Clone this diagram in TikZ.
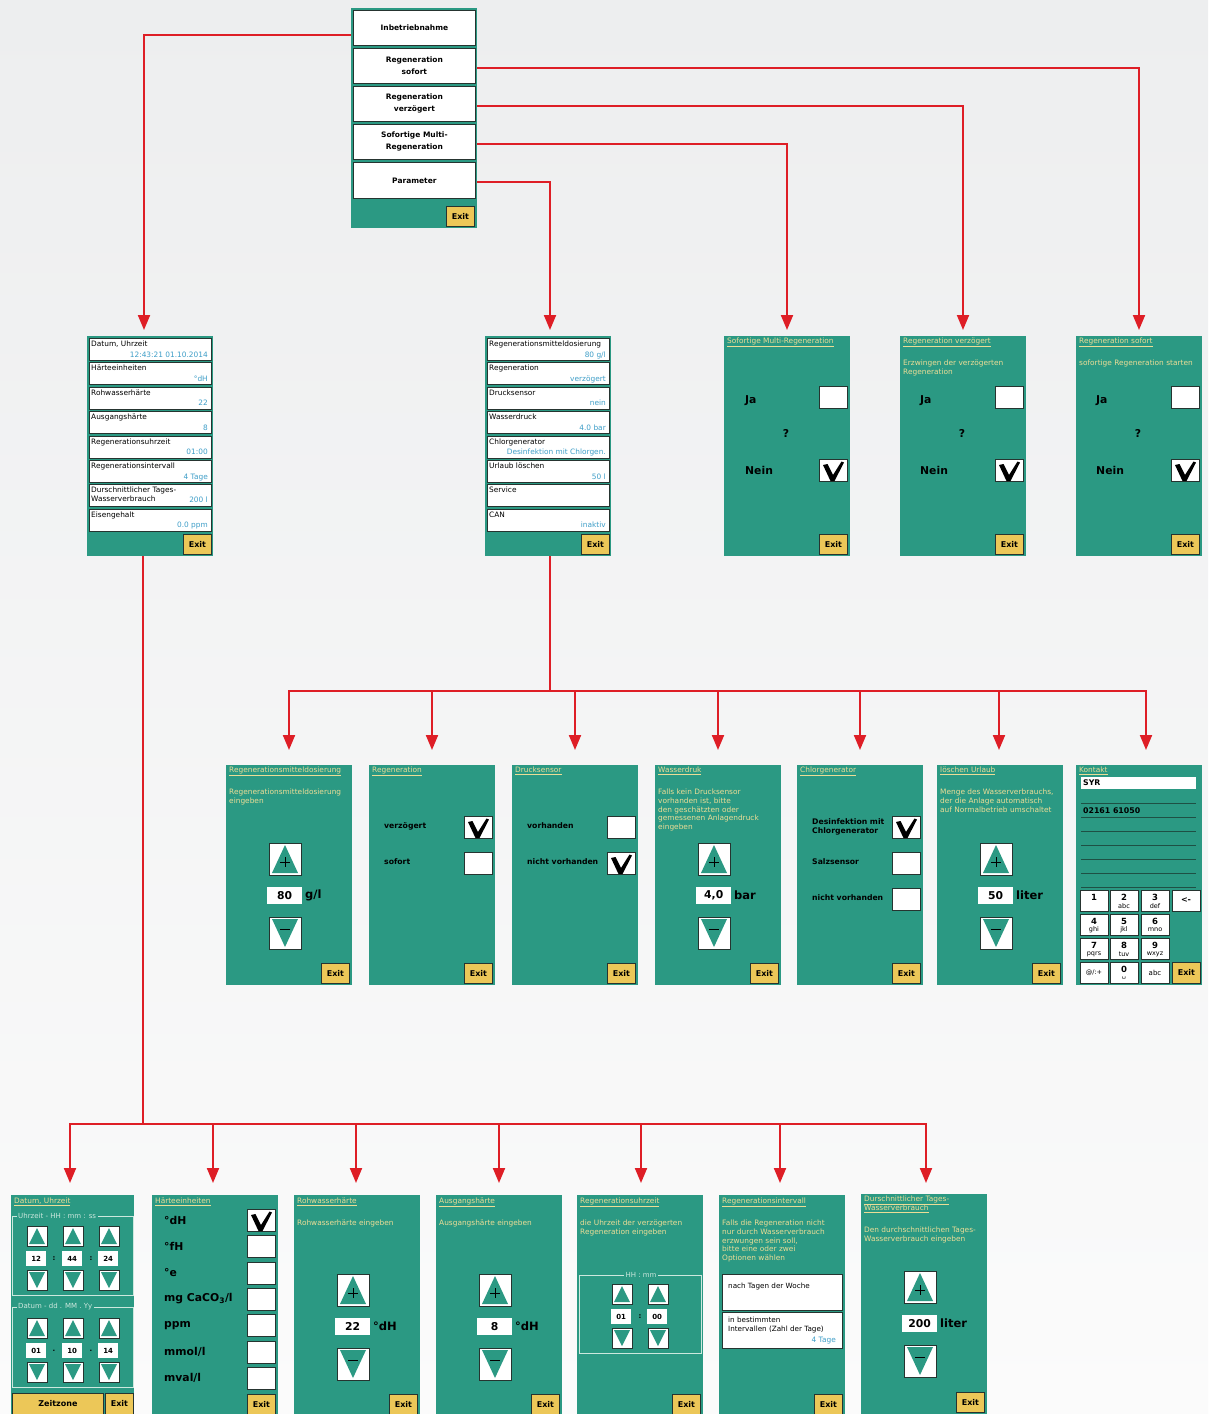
\documentclass[tikz,border=0pt]{standalone}
\usepackage{fontspec}
\setmainfont{DejaVu Sans}
\usetikzlibrary{arrows.meta}
\definecolor{tl}{RGB}{43,153,131}
\definecolor{dk}{RGB}{38,52,48}
\definecolor{kh}{RGB}{236,221,150}
\definecolor{vb}{RGB}{62,158,200}
\definecolor{ex}{RGB}{236,199,88}
\definecolor{rd}{RGB}{222,30,38}
\definecolor{bgt}{RGB}{237,238,239}
\definecolor{bgb}{RGB}{251,251,251}
\definecolor{fr}{RGB}{205,232,222}
\definecolor{lnc}{RGB}{30,80,68}
\newcommand\fs[2]{\fontsize{#1}{#2}\selectfont}
\newcommand\uln[1]{\underline{#1}}
\pgfdeclarelayer{back}\pgfdeclarelayer{conn}\pgfsetlayers{back,conn,main}
\tikzset{
 panel/.style={fill=tl, anchor=north west, inner sep=0pt, minimum width=126pt, minimum height=220pt},
 wb/.style={fill=white, draw=dk, line width=0.8pt, anchor=north west, inner sep=0pt},
 mbtn/.style={wb, minimum width=122pt, minimum height=35pt, align=center, font=\bfseries\fs{7.5}{12}},
 exitst/.style={fill=ex, draw=dk, line width=0.8pt, anchor=north west, inner sep=0pt, minimum width=28pt, minimum height=20pt, font=\bfseries\fs{8}{9}},
 ttlst/.style={anchor=west, inner sep=0pt, text=kh, font=\fs{7.4}{9}},
 descst/.style={anchor=north west, inner sep=0pt, text=kh, font=\fs{7.4}{8.7}, align=left},
 bigst/.style={anchor=west, inner sep=0pt, font=\bfseries\fs{10.8}{12}},
 midst/.style={anchor=west, inner sep=0pt, font=\bfseries\fs{7.7}{9}, align=left},
 hst/.style={anchor=west, inner sep=0pt, font=\bfseries\fs{10.8}{12}},
 arr/.style={draw=rd, line width=2pt, -{Triangle[width=12pt,length=15pt]}},
 busst/.style={draw=rd, line width=2pt},
 cb/.style={wb, minimum width=28pt, minimum height=22pt},
 btnst/.style={wb, minimum width=32pt, minimum height=32pt},
 sbtnst/.style={wb, minimum width=20pt, minimum height=20pt},
 valbox/.style={fill=white, anchor=north west, inner sep=0pt, minimum width=35pt, minimum height=17pt, font=\bfseries\fs{10.8}{11}},
 svbox/.style={fill=white, anchor=north west, inner sep=0pt, minimum width=20pt, minimum height=15pt, font=\bfseries\fs{7}{8}},
 unitst/.style={anchor=west, inner sep=0pt, font=\bfseries\fs{11.5}{12}},
 lt/.style={anchor=base west, inner sep=0pt, font=\fs{7.4}{9}},
 lv/.style={anchor=base east, inner sep=0pt, font=\fs{7.4}{9}, text=vb},
 keyst/.style={wb, minimum width=28pt, minimum height=21pt},
 kd/.style={inner sep=0pt, font=\bfseries\fs{8.5}{9}},
 kl/.style={inner sep=0pt, font=\fs{6.5}{7}},
 legst/.style={anchor=west, fill=tl, inner sep=1.5pt, text=fr, font=\fs{7}{8}},
 colst/.style={inner sep=0pt, font=\bfseries\fs{7}{8}},
 blk/.style={anchor=west, inner sep=0pt, font=\bfseries\fs{7.8}{9}},
 bt/.style={anchor=west, inner sep=0pt, font=\fs{7.2}{9}},
}
% checkbox: name, x, y, checked
\newcommand\cbx[4]{\node[cb] (#1) at (#2,#3) {};%
 \ifnum#4=1 \fill (#2+4,#3+6) -- (#2+8.5,#3+5) -- (#2+14,#3+16) -- (#2+22.5,#3+2.5) -- (#2+25,#3+3.5) -- (#2+15.5,#3+22) -- (#2+11.5,#3+22) -- cycle;\fi}
% big spinner: name, up-y, value, unit
\newcommand\spin[4]{%
 \node[btnst] (#1u) at (43,#2) {};
 \fill[tl] (46,#2+30) -- (72,#2+30) -- (59,#2+2) -- cycle;
 \draw[line width=1pt] (54,#2+19) -- (64,#2+19) (59,#2+14) -- (59,#2+24);
 \node[valbox] (#1v) at (41,#2+44) {#3};
 \node[unitst] (#1n) at (79,#2+52.5) {#4};
 \node[btnst] (#1d) at (43,#2+74) {};
 \fill[tl] (46,#2+76) -- (72,#2+76) -- (59,#2+104) -- cycle;
 \draw[line width=1pt] (54,#2+86.5) -- (64,#2+86.5);}
% small spinner: name, x, y, value
\newcommand\sspin[4]{%
 \node[sbtnst] (#1u) at (#2,#3) {};
 \fill[tl] (#2+2,#3+18) -- (#2+18,#3+18) -- (#2+10,#3+2) -- cycle;
 \node[svbox] (#1v) at (#2-1,#3+25) {#4};
 \node[sbtnst] (#1d) at (#2,#3+44) {};
 \fill[tl] (#2+2,#3+46) -- (#2+18,#3+46) -- (#2+10,#3+62) -- cycle;}
% list entry: name, y, label, value
\newcommand\entry[4]{\node[wb, minimum width=122pt, minimum height=22pt] (#1) at (2,#2) {};
 \node[lt] (#1l) at (4,#2+8.5) {#3};
 \node[lv] (#1v) at (121,#2+19) {#4};}
% keypad key: name, x, y, digit, letters
\newcommand\kp[5]{\node[keyst] (#1) at (#2,#3) {};
 \node[kd] (#1a) at (#2+14,#3+7) {#4};
 \node[kl] (#1b) at (#2+14,#3+16) {#5};}
\newcommand\kc[5]{\node[keyst] (#1) at (#2,#3) {};
 \node[inner sep=0pt, font=#5] (#1a) at (#2+14,#3+10.5) {#4};}

\begin{document}
\begin{tikzpicture}[x=1pt,y=-1pt]
\useasboundingbox (0,0) rectangle (1208,1414);
\begin{pgfonlayer}{back}
\shade[top color=bgt, bottom color=bgb] (0,0) rectangle (1208,1414);
\end{pgfonlayer}

% ---------- main menu
\begin{scope}[shift={(351,8)}]
\node[panel] (menu) at (0,0) {};
\node[mbtn] (mInb) at (2,2) {Inbetriebnahme};
\node[mbtn] (mSof) at (2,40) {Regeneration\\sofort};
\node[mbtn] (mVer) at (2,78) {Regeneration\\verzögert};
\node[mbtn] (mMul) at (2,116) {Sofortige Multi-\\Regeneration};
\node[mbtn, minimum height=36pt] (mPar) at (2,154) {Parameter};
\node[exitst] (mEx) at (95,198) {Exit};
\end{scope}

% ---------- Inbetriebnahme list
\begin{scope}[shift={(87,336)}]
\node[panel] (L) at (0,0) {};
\entry{L1}{2}{Datum, Uhrzeit}{12:43:21 01.10.2014}
\entry{L2}{26.4}{Härteeinheiten}{°dH}
\entry{L3}{50.8}{Rohwasserhärte}{22}
\entry{L4}{75.2}{Ausgangshärte}{8}
\entry{L5}{99.6}{Regenerationsuhrzeit}{01:00}
\entry{L6}{124}{Regenerationsintervall}{4 Tage}
\node[wb, minimum width=122pt, minimum height=22pt] (L7) at (2,148.4) {};
\node[lt] (L7l) at (4,156.4) {Durschnittlicher Tages-};
\node[lt] (L7m) at (4,165.4) {Wasserverbrauch};
\node[lv] (L7v) at (121,166.4) {200 l};
\entry{L8}{172.8}{Eisengehalt}{0.0 ppm}
\node[exitst] (Lx) at (96,198) {Exit};
\end{scope}

% ---------- Parameter list
\begin{scope}[shift={(485,336)}]
\node[panel] (M) at (0,0) {};
\entry{M1}{2}{Regenerationsmitteldosierung}{80 g/l}
\entry{M2}{26.4}{Regeneration}{verzögert}
\entry{M3}{50.8}{Drucksensor}{nein}
\entry{M4}{75.2}{Wasserdruck}{4.0 bar}
\entry{M5}{99.6}{Chlorgenerator}{Desinfektion mit Chlorgen.}
\entry{M6}{124}{Urlaub löschen}{50 l}
\entry{M7}{148.4}{Service}{}
\entry{M8}{172.8}{CAN}{inaktiv}
\node[exitst] (Mx) at (96,198) {Exit};
\end{scope}

% ---------- yes/no screens
\begin{scope}[shift={(724,336)}]
\node[panel] (A1) at (0,0) {};
\node[ttlst] (A1t) at (3,6) {\uln{Sofortige Multi-Regeneration}};
\node[bigst] (A1j) at (21,65) {Ja};
\cbx{A1a}{95}{50}{0}
\node[bigst, anchor=center] (A1q) at (62,97) {?};
\node[bigst] (A1n) at (21,134) {Nein};
\cbx{A1b}{95}{123}{1}
\node[exitst] (A1x) at (95,198) {Exit};
\end{scope}
\begin{scope}[shift={(900,336)}]
\node[panel] (A2) at (0,0) {};
\node[ttlst] (A2t) at (3,6) {\uln{Regeneration verzögert}};
\node[descst] (A2d) at (3,24) {Erzwingen der verzögerten\\Regeneration};
\node[bigst] (A2j) at (20,65) {Ja};
\cbx{A2a}{95}{50}{0}
\node[bigst, anchor=center] (A2q) at (62,97) {?};
\node[bigst] (A2n) at (20,134) {Nein};
\cbx{A2b}{95}{123}{1}
\node[exitst] (A2x) at (95,198) {Exit};
\end{scope}
\begin{scope}[shift={(1076,336)}]
\node[panel] (A3) at (0,0) {};
\node[ttlst] (A3t) at (3,6) {\uln{Regeneration sofort}};
\node[descst] (A3d) at (3,24) {sofortige Regeneration starten};
\node[bigst] (A3j) at (20,65) {Ja};
\cbx{A3a}{95}{50}{0}
\node[bigst, anchor=center] (A3q) at (62,97) {?};
\node[bigst] (A3n) at (20,134) {Nein};
\cbx{A3b}{95}{123}{1}
\node[exitst] (A3x) at (95,198) {Exit};
\end{scope}

% ---------- row 2
\begin{scope}[shift={(226,765)}]
\node[panel] (B1) at (0,0) {};
\node[ttlst] (B1t) at (3,6) {\uln{Regenerationsmitteldosierung}};
\node[descst] (B1d) at (3,24) {Regenerationsmitteldosierung\\eingeben};
\spin{B1s}{78}{80}{g/l}
\node[exitst] (B1x) at (95,198) {Exit};
\end{scope}
\begin{scope}[shift={(369,765)}]
\node[panel] (B2) at (0,0) {};
\node[ttlst] (B2t) at (3,6) {\uln{Regeneration}};
\node[midst] (B2a) at (15,61) {verzögert};
\cbx{B2c}{95}{51}{1}
\node[midst] (B2b) at (15,97) {sofort};
\cbx{B2d}{95}{87}{0}
\node[exitst] (B2x) at (95,198) {Exit};
\end{scope}
\begin{scope}[shift={(512,765)}]
\node[panel] (B3) at (0,0) {};
\node[ttlst] (B3t) at (3,6) {\uln{Drucksensor}};
\node[midst] (B3a) at (15,61) {vorhanden};
\cbx{B3c}{95}{51}{0}
\node[midst] (B3b) at (15,97) {nicht vorhanden};
\cbx{B3d}{95}{87}{1}
\node[exitst] (B3x) at (95,198) {Exit};
\end{scope}
\begin{scope}[shift={(655,765)}]
\node[panel] (B4) at (0,0) {};
\node[ttlst] (B4t) at (3,6) {\uln{Wasserdruk}};
\node[descst] (B4d) at (3,24) {Falls kein Drucksensor\\vorhanden ist, bitte\\den geschätzten oder\\gemessenen Anlagendruck\\eingeben};
\spin{B4s}{78}{4,0}{bar}
\node[exitst] (B4x) at (95,198) {Exit};
\end{scope}
\begin{scope}[shift={(797,765)}]
\node[panel] (B5) at (0,0) {};
\node[ttlst] (B5t) at (3,6) {\uln{Chlorgenerator}};
\node[midst] (B5a) at (15,61.5) {Desinfektion mit\\Chlorgenerator};
\cbx{B5c}{95}{51}{1}
\node[midst] (B5b) at (15,97) {Salzsensor};
\cbx{B5d}{95}{87}{0}
\node[midst] (B5e) at (15,133) {nicht vorhanden};
\cbx{B5f}{95}{123}{0}
\node[exitst] (B5x) at (95,198) {Exit};
\end{scope}
\begin{scope}[shift={(937,765)}]
\node[panel] (B6) at (0,0) {};
\node[ttlst] (B6t) at (3,6) {\uln{löschen Urlaub}};
\node[descst] (B6d) at (3,24) {Menge des Wasserverbrauchs,\\der die Anlage automatisch\\auf Normalbetrieb umschaltet};
\spin{B6s}{78}{50}{liter}
\node[exitst] (B6x) at (95,198) {Exit};
\end{scope}
\begin{scope}[shift={(1076,765)}]
\node[panel] (B7) at (0,0) {};
\node[ttlst] (B7t) at (3,6) {\uln{Kontakt}};
\node[fill=white, anchor=north west, inner sep=0pt, minimum width=115pt, minimum height=12pt] (B7f) at (5,12) {};
\node[blk] (B7n) at (7,18) {SYR};
\foreach \yy in {38,52,66,80,94,108,122} \draw[lnc, line width=0.8pt] (5,\yy) -- (120,\yy);
\node[blk] (B7p) at (7,46) {02161 61050};
\node[keyst] (B7k1) at (4,125) {};
\node[kd] (B7k1a) at (18,132) {1};
\kp{B7k2}{34}{125}{2}{abc}
\kp{B7k3}{65}{125}{3}{def}
\kc{B7kb}{96}{125}{<-}{\bfseries\fs{8}{9}}
\kp{B7k4}{4}{149}{4}{ghi}
\kp{B7k5}{34}{149}{5}{jkl}
\kp{B7k6}{65}{149}{6}{mno}
\kp{B7k7}{4}{173}{7}{pqrs}
\kp{B7k8}{34}{173}{8}{tuv}
\kp{B7k9}{65}{173}{9}{wxyz}
\kc{B7ks}{4}{197}{@/:+}{\fs{6.5}{7}}
\kp{B7k0}{34}{197}{0}{␣}
\kc{B7kc}{65}{197}{abc}{\fs{7}{8}}
\node[exitst, minimum height=21pt] (B7x) at (96,197) {Exit};
\end{scope}

% ---------- row 3
\begin{scope}[shift={(11,1195)}]
\node[panel, minimum width=123pt] (C1) at (0,0) {};
\node[ttlst] (C1t) at (3,7) {\uln{Datum, Uhrzeit}};
\draw[fr, line width=0.8pt] (1,21) rectangle (122,100);
\node[legst] (C1g) at (5.5,21) {Uhrzeit - HH : mm : ss};
\sspin{C1h}{16}{31}{12}
\sspin{C1m}{52}{31}{44}
\sspin{C1s}{88}{31}{24}
\node[colst] (C1c1) at (43,63.5) {:};
\node[colst] (C1c2) at (80,63.5) {:};
\draw[fr, line width=0.8pt] (1,112) rectangle (122,192);
\node[legst] (C1g2) at (5.5,112) {Datum - dd . MM . Yy};
\sspin{C1d}{16}{123}{01}
\sspin{C1o}{52}{123}{10}
\sspin{C1y}{88}{123}{14}
\node[colst] (C1p1) at (43,155.5) {.};
\node[colst] (C1p2) at (80,155.5) {.};
\node[exitst, minimum width=91pt, minimum height=21pt] (C1z) at (1,198) {Zeitzone};
\node[exitst, minimum height=21pt] (C1x) at (94,198) {Exit};
\end{scope}
\begin{scope}[shift={(152,1195)}]
\node[panel] (C2) at (0,0) {};
\node[ttlst] (C2t) at (3,7) {\uln{Härteeinheiten}};
\node[hst] (C2a) at (12,25) {°dH};
\node[hst] (C2b) at (12,51.3) {°fH};
\node[hst] (C2c) at (12,77.6) {°e};
\node[hst] (C2d) at (12,103.9) {mg CaCO\textsubscript{3}/l};
\node[hst] (C2e) at (12,130.2) {ppm};
\node[hst] (C2f) at (12,156.5) {mmol/l};
\node[hst] (C2g) at (12,182.8) {mval/l};
\cbx{C2ca}{95}{14}{1}
\cbx{C2cb}{95}{40.3}{0}
\cbx{C2cc}{95}{66.6}{0}
\cbx{C2cd}{95}{92.9}{0}
\cbx{C2ce}{95}{119.2}{0}
\cbx{C2cf}{95}{145.5}{0}
\cbx{C2cg}{95}{171.8}{0}
\node[exitst] (C2x) at (95,199) {Exit};
\end{scope}
\begin{scope}[shift={(294,1195)}]
\node[panel] (C3) at (0,0) {};
\node[ttlst] (C3t) at (3,7) {\uln{Rohwasserhärte}};
\node[descst] (C3d) at (3,25) {Rohwasserhärte eingeben};
\spin{C3s}{79}{22}{°dH}
\node[exitst] (C3x) at (95,199) {Exit};
\end{scope}
\begin{scope}[shift={(436,1195)}]
\node[panel] (C4) at (0,0) {};
\node[ttlst] (C4t) at (3,7) {\uln{Ausgangshärte}};
\node[descst] (C4d) at (3,25) {Ausgangshärte eingeben};
\spin{C4s}{79}{8}{°dH}
\node[exitst] (C4x) at (95,199) {Exit};
\end{scope}
\begin{scope}[shift={(577,1195)}]
\node[panel] (C5) at (0,0) {};
\node[ttlst] (C5t) at (3,7) {\uln{Regenerationsuhrzeit}};
\node[descst] (C5d) at (3,25) {die Uhrzeit der verzögerten\\Regeneration eingeben};
\draw[fr, line width=0.8pt] (2,80) rectangle (124,158);
\node[legst, anchor=center] (C5g) at (64,80) {HH : mm};
\sspin{C5h}{35}{89}{01}
\sspin{C5m}{71}{89}{00}
\node[colst] (C5c) at (63,121.5) {:};
\node[exitst] (C5x) at (95,199) {Exit};
\end{scope}
\begin{scope}[shift={(719,1195)}]
\node[panel] (C6) at (0,0) {};
\node[ttlst] (C6t) at (3,7) {\uln{Regenerationsintervall}};
\node[descst] (C6d) at (3,25) {Falls die Regeneration nicht\\nur durch Wasserverbrauch\\erzwungen sein soll,\\bitte eine oder zwei\\Optionen wählen};
\node[wb, minimum width=120pt, minimum height=36pt] (C6a) at (3,79) {};
\node[bt] (C6at) at (9,91) {nach Tagen der Woche};
\node[wb, minimum width=120pt, minimum height=36pt] (C6b) at (3,117) {};
\node[bt] (C6bt) at (9,125) {in bestimmten};
\node[bt] (C6bu) at (9,134) {Intervallen (Zahl der Tage)};
\node[lv] (C6bv) at (117,147.5) {4 Tage};
\node[exitst] (C6x) at (95,199) {Exit};
\end{scope}
\begin{scope}[shift={(861,1194)}]
\node[panel] (C7) at (0,0) {};
\node[ttlst] (C7t) at (3,6) {\uln{Durschnittlicher Tages-}};
\node[ttlst] (C7u) at (3,15) {\uln{Wasserverbrauch}};
\node[descst] (C7d) at (3,33) {Den durchschnittlichen Tages-\\Wasserverbrauch eingeben};
\spin{C7s}{77}{200}{liter}
\node[exitst] (C7x) at (95,198) {Exit};
\end{scope}

% ---------- connectors
\begin{pgfonlayer}{conn}
\coordinate (tL) at (144,336);
\coordinate (t1) at (1139,336);
\coordinate (t2) at (963,336);
\coordinate (t3) at (787,336);
\coordinate (t4) at (550,336);
\draw[arr, shorten >=6pt] ([yshift=-7pt]mInb.west) -| (tL);
\draw[arr, shorten >=6pt] ([yshift=-2pt]mSof.east) -| (t1);
\draw[arr, shorten >=6pt] ([yshift=-2pt]mVer.east) -| (t2);
\draw[arr, shorten >=6pt] ([yshift=-2pt]mMul.east) -| (t3);
\draw[arr, shorten >=6pt] ([yshift=-2pt]mPar.east) -| (t4);
\coordinate (Lb) at (143,556);
\coordinate (busL) at (143,1124);
\draw[busst] (Lb) -- (busL);
\foreach \x [count=\i] in {70,213,356,499,641,780,926}{
  \coordinate (dC\i) at (\x,1195);
  \draw[arr, shorten >=12pt] (busL) -| (dC\i);}
\coordinate (Mb) at (550,556);
\coordinate (busM) at (550,691);
\draw[busst] (Mb) -- (busM);
\foreach \x [count=\i] in {289,432,575,718,860,999,1146}{
  \coordinate (dB\i) at (\x,765);
  \draw[arr, shorten >=15pt] (busM) -| (dB\i);}
\end{pgfonlayer}
\end{tikzpicture}
\end{document}
